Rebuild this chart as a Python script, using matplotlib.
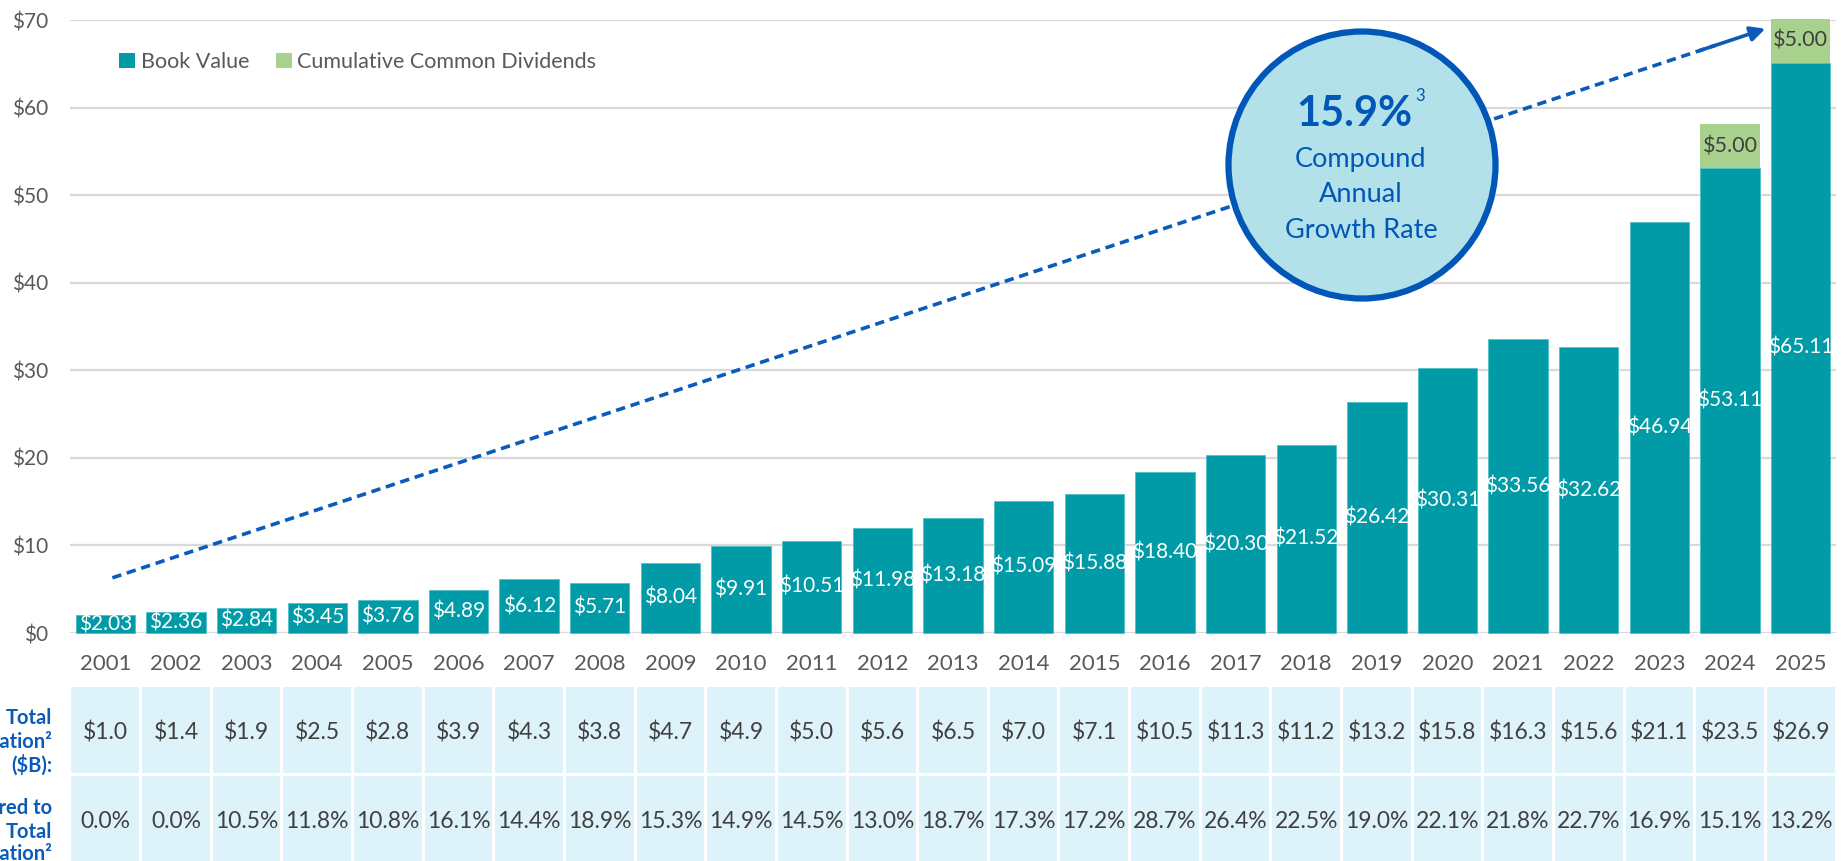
import numpy as np
import matplotlib
matplotlib.use("Agg")
import matplotlib.pyplot as plt
from matplotlib.patches import Rectangle, Ellipse, Patch

plt.rcParams['font.family'] = ['Lato', 'DejaVu Sans']

years = [str(y) for y in range(2001, 2026)]
book_value = [2.03, 2.36, 2.84, 3.45, 3.76, 4.89, 6.12, 5.71, 8.04, 9.91, 10.51, 11.98, 13.18,
              15.09, 15.88, 18.40, 20.30, 21.52, 26.42, 30.31, 33.56, 32.62, 46.94, 53.11, 65.11]
cum_dividends = [0]*23 + [5.00, 5.00]
total_cap = [1.0, 1.4, 1.9, 2.5, 2.8, 3.9, 4.3, 3.8, 4.7, 4.9, 5.0, 5.6, 6.5, 7.0, 7.1,
             10.5, 11.3, 11.2, 13.2, 15.8, 16.3, 15.6, 21.1, 23.5, 26.9]
pref_ratio = [0.0, 0.0, 10.5, 11.8, 10.8, 16.1, 14.4, 18.9, 15.3, 14.9, 14.5, 13.0, 18.7, 17.3,
              17.2, 28.7, 26.4, 22.5, 19.0, 22.1, 21.8, 22.7, 16.9, 15.1, 13.2]
y_ticks = [0, 10, 20, 30, 40, 50, 60, 70]
cagr_text = "15.9%"

TEAL = '#009BA6'
GREEN = '#A9D18E'
BLUE = '#0A5BBA'
GRID = '#D9D9D9'
TICK = '#595959'
CELL = '#DEF2FA'
DARK = '#404040'

W, H = 1849, 861
fig = plt.figure(figsize=(W/100, H/100), dpi=100)
ax = fig.add_axes([70/W, (H-633)/H, (1836-70)/W, (633-20)/H])
x = np.arange(len(years))
ax.set_xlim(-0.5, len(years)-0.5)
ax.set_ylim(0, 70)

ax.bar(x, book_value, width=0.84, color=TEAL, edgecolor='#4FC0C6', linewidth=0.6, zorder=2, clip_on=False)
ax.bar(x, cum_dividends, bottom=book_value, width=0.84, color=GREEN, zorder=2, clip_on=False)

for i, v in enumerate(book_value):
    ax.text(i, v/2, f"${v:.2f}", ha='center', va='center', color='white', fontsize=15,
            zorder=3, clip_on=True)
for i, (b, d) in enumerate(zip(book_value, cum_dividends)):
    if d > 0:
        ax.text(i, b + d/2, f"${d:.2f}", ha='center', va='center', color=DARK, fontsize=15.5, zorder=3)

ax.set_yticks(y_ticks)
ax.set_yticklabels([f"${t}" for t in y_ticks], fontsize=15, color=TICK)
ax.set_xticks(x)
ax.set_xticklabels(years, fontsize=16, color=TICK)
ax.tick_params(axis='both', length=0)
ax.tick_params(axis='y', pad=16)
ax.tick_params(axis='x', pad=15)
for s in ax.spines.values():
    s.set_visible(False)
ax.yaxis.grid(True, color=GRID, linewidth=1.6, zorder=0)
ax.set_axisbelow(True)

# dashed growth arrow
x0, y0, x1, y1 = 0.1, 6.3, 23.5, 69.0
t = 0.97
ax.plot([x0, x0 + (x1-x0)*t], [y0, y0 + (y1-y0)*t], color=BLUE, lw=2.6,
        linestyle=(0, (2.6, 1.6)), zorder=4, clip_on=False)
ax.annotate('', xy=(x1, y1), xytext=(x0 + (x1-x0)*0.96, y0 + (y1-y0)*0.96),
            arrowprops=dict(arrowstyle='-|>', color=BLUE, lw=2.6, mutation_scale=22,
                            shrinkA=0, shrinkB=0), zorder=4, annotation_clip=False)

# circle callout
cx, cy, r = 1362, 165, 133.5
ell = Ellipse((cx/W, (H-cy)/H), 2*r/W, 2*r/H, transform=fig.transFigure,
              facecolor='#B3E1EA', edgecolor='#0057B8', linewidth=4.5, zorder=5, clip_on=False)
ax.add_patch(ell)
fig.text(1354/W, (H-114)/H, cagr_text, ha='center', va='center', fontsize=30,
         fontweight='bold', color='#0057B8', zorder=6)
fig.text(1420/W, (H-96)/H, "3", ha='center', va='center', fontsize=12, color='#0057B8', zorder=6)
for txt, yy in [("Compound", 159), ("Annual", 195), ("Growth Rate", 231)]:
    fig.text(1361/W, (H-yy)/H, txt, ha='center', va='center', fontsize=19.5,
             color='#0057B8', zorder=6)

# legend
handles = [Patch(facecolor=TEAL, edgecolor='none', label='Book Value'),
           Patch(facecolor=GREEN, edgecolor='none', label='Cumulative Common Dividends')]
leg = ax.legend(handles=handles, loc='center left', bbox_to_anchor=(119/W, (H-62)/H),
                bbox_transform=fig.transFigure, ncol=2, frameon=False, fontsize=15.5,
                handlelength=0.75, handleheight=0.75, handletextpad=0.25, columnspacing=1.25,
                borderpad=0, borderaxespad=0)
for ttxt in leg.get_texts():
    ttxt.set_color(TICK)

# table
tax = fig.add_axes([70/W, 0, (1836-70)/W, (H-687)/H])
tax.set_xlim(-0.5, len(years)-0.5)
tax.set_ylim(0, H-687)
tax.axis('off')
row1_bottom, row1_top = H-773, H-687
row2_bottom, row2_top = -20, H-776
for i in range(len(years)):
    tax.add_patch(Rectangle((i-0.479, row1_bottom), 0.958, row1_top-row1_bottom,
                            facecolor=CELL, edgecolor='none', clip_on=False))
    tax.add_patch(Rectangle((i-0.479, row2_bottom), 0.958, row2_top-row2_bottom,
                            facecolor=CELL, edgecolor='none', clip_on=False))
    tax.text(i, H-732, f"${total_cap[i]:.1f}", ha='center', va='center', fontsize=16.5, color=DARK)
    tax.text(i, H-821, f"{pref_ratio[i]:.1f}%", ha='center', va='center', fontsize=16.5, color=DARK)

for txt, yy in [("Total", 718), ("Capitalization²", 742), ("($B):", 765),
                ("Preferred to", 808), ("Total", 832), ("Capitalization²", 853)]:
    fig.text(52/W, (H-yy)/H, txt, ha='right', va='center', fontsize=14.5,
             fontweight='bold', color='#0A5BBA')

fig.savefig("out.png", dpi=100)
